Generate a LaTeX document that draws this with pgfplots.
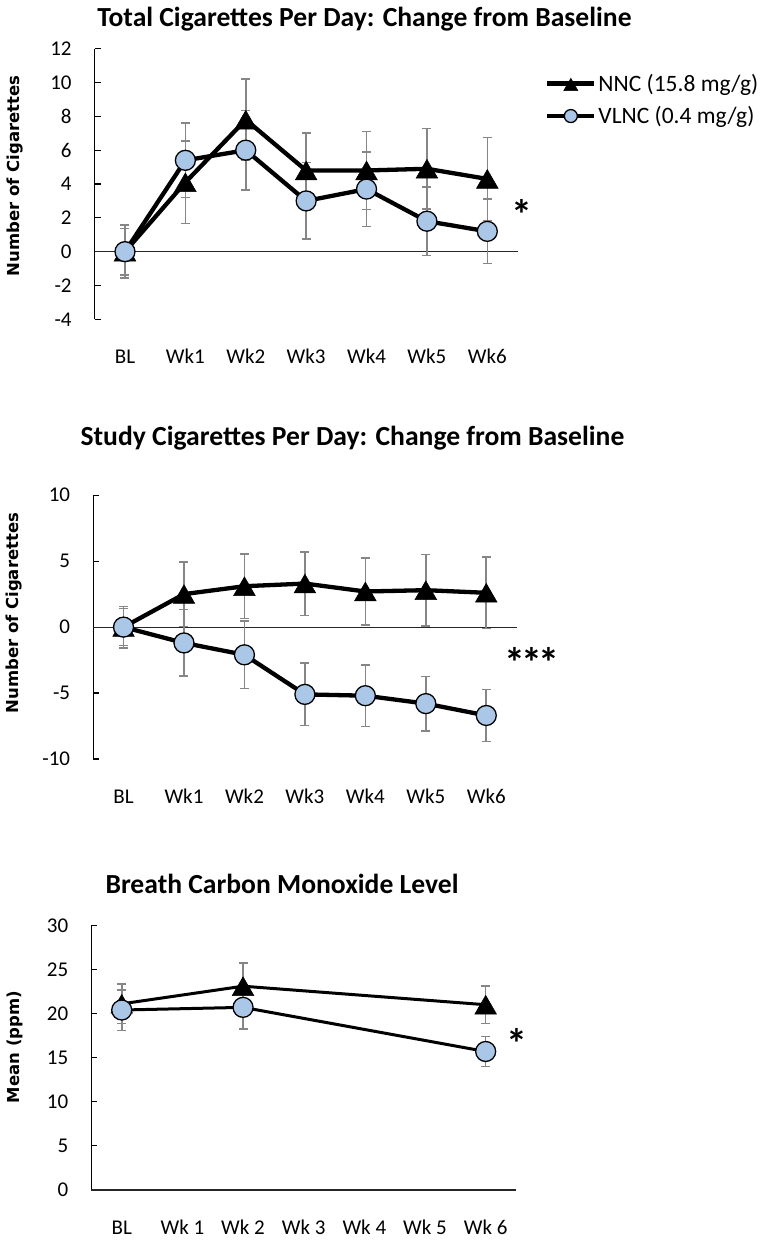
\documentclass[border=0pt]{standalone}
\usepackage{pgfplots}
\pgfplotsset{compat=1.18}
\usepackage{pgfplotstable}
\usepackage{fontspec}
\setmainfont{Carlito}
\newfontfamily\verd{DejaVu Sans}
\definecolor{vl}{RGB}{170,199,232}
\definecolor{eb}{RGB}{134,134,134}

\pgfplotstableread{
x y e
0 0 1.57
1 4.1 2.43
2 7.8 2.4
3 4.8 2.2
4 4.8 2.3
5 4.9 2.37
6 4.3 2.46
}\totnnc
\pgfplotstableread{
x y e
0 0 1.38
1 5.4 2.2
2 6.0 2.34
3 3.0 2.26
4 3.7 2.21
5 1.8 2.03
6 1.2 1.9
}\totvl
\pgfplotstableread{
x y e
0 0 1.57
1 2.5 2.45
2 3.1 2.45
3 3.3 2.41
4 2.7 2.54
5 2.8 2.7
6 2.6 2.7
}\stnnc
\pgfplotstableread{
x y e
0 0 1.4
1 -1.2 2.52
2 -2.1 2.55
3 -5.1 2.37
4 -5.2 2.34
5 -5.8 2.06
6 -6.7 1.98
}\stvl
\pgfplotstableread{
x y e
0 21.1 2.25
2 23.1 2.6
6 21.0 2.14
}\conc
\pgfplotstableread{
x y e
0 20.4 2.3
2 20.7 2.45
6 15.7 1.72
}\covl

\newcommand{\ylabfont}{\verd\bfseries\fontsize{16.5pt}{20pt}\selectfont}
\newcommand{\astfont}{\bfseries\fontsize{42pt}{46pt}\selectfont}

\pgfplotsset{
  base/.style={
    scale only axis, clip=false,
    xmin=-0.5, xmax=6.5,
    xtick={0,...,6},
    axis y line*=left, axis x line*=bottom,
    x axis line style={draw=none},
    y axis line style={-, black, line width=1.2pt},
    x tick style={draw=none},
    y tick style={black, line width=1.2pt},
    tick align=inside, major tick length=6pt,
    /pgf/number format/assume math mode=true,
    ticklabel style={font=\fontsize{21pt}{25pt}\selectfont},
    xticklabel style={anchor=base, yshift=-44pt, inner sep=0pt},
    yticklabel style={anchor=east, inner sep=0pt, xshift=-23pt},
    extra y ticks={0}, extra y tick labels={},
    extra y tick style={grid=major, major grid style={black!85, line width=1.2pt}, major tick length=0pt},
    legend image code/.code={\draw[mark repeat=2, mark phase=2, #1, /tikz/every mark/.append style={scale=0.65}] plot coordinates {(0pt,0pt) (23.5pt,0pt) (47pt,0pt)};},
  },
  ebar/.style={forget plot, draw=none, mark=none, error bars/.cd, y dir=both, y explicit,
    error bar style={eb, line width=1.6pt}, error mark options={eb, line width=1.6pt, mark size=4.5pt, rotate=90}},
  nnc/.style={black, line width=#1, mark=triangle*, mark size=12.5pt, mark options={solid, fill=black, draw=black, line width=0.5pt, yshift=-3.1pt}},
  vlnc/.style={black, line width=#1, mark=*, mark size=10pt, mark options={solid, fill=vl, draw=black, line width=1.3pt}},
}

\begin{document}
\begin{tikzpicture}
\useasboundingbox (0,0) rectangle (760pt,-1242pt);

% ---------- Chart 1 ----------
\begin{axis}[base,
  at={(94.8pt,-319.3pt)}, anchor=south west,
  width=422.7pt, height=270.6pt,
  ymin=-4, ymax=12, ytick={-4,-2,...,12},
  xticklabels={BL,Wk1,Wk2,Wk3,Wk4,Wk5,Wk6},
  title={Total Cigarettes Per Day: Change from Baseline},
  every axis title/.style={at={(axis description cs:0.638,1.083)}, anchor=base, inner sep=0pt, font=\bfseries\fontsize{27.6pt}{32pt}\selectfont},
  ylabel={Number of Cigarettes},
  every axis y label/.style={at={(axis description cs:-0.1793,0.53)}, rotate=90, anchor=base, inner sep=0pt, font=\ylabfont},
  legend style={draw=none, fill=none, at={(rel axis cs:1.065,0.9146)}, anchor=north west,
    font=\fontsize{23.5pt}{28pt}\selectfont, row sep=10pt, column sep=0pt, inner sep=0pt,
    cells={anchor=west}},
]
\addplot[ebar] table[x=x,y=y,y error=e]{\totnnc};
\addplot[ebar] table[x=x,y=y,y error=e]{\totvl};
\addplot[nnc=4.3pt] table[x=x,y=y]{\totnnc};
\addlegendentry{NNC (15.8 mg/g)}
\addplot[vlnc=4.3pt] table[x=x,y=y]{\totvl};
\addlegendentry{VLNC (0.4 mg/g)}
\node[font=\astfont, inner sep=0pt, yshift=-8pt] at (axis cs:6.574,2.65) {*};
\end{axis}

% ---------- Chart 2 ----------
\begin{axis}[base,
  at={(93.3pt,-759pt)}, anchor=south west,
  width=423.2pt, height=263.8pt,
  ymin=-10, ymax=10, ytick={-10,-5,0,5,10},
  xticklabels={BL,Wk1,Wk2,Wk3,Wk4,Wk5,Wk6},
  title={Study Cigarettes Per Day: Change from Baseline},
  every axis title/.style={at={(axis description cs:0.6125,1.1903)}, anchor=base, inner sep=0pt, font=\bfseries\fontsize{27.6pt}{32pt}\selectfont},
  ylabel={Number of Cigarettes},
  every axis y label/.style={at={(axis description cs:-0.1756,0.553)}, rotate=90, anchor=base, inner sep=0pt, font=\ylabfont},
]
\addplot[ebar] table[x=x,y=y,y error=e]{\stnnc};
\addplot[ebar] table[x=x,y=y,y error=e]{\stvl};
\addplot[nnc=4.3pt] table[x=x,y=y]{\stnnc};
\addplot[vlnc=4.3pt] table[x=x,y=y]{\stvl};
\node[font=\astfont, inner sep=0pt, yshift=-8pt] at (axis cs:6.756,-2.05) {*\kern-4.2pt*\kern-4.2pt*};
\end{axis}

% ---------- Chart 3 ----------
\begin{axis}[base,
  at={(91.4pt,-1190pt)}, anchor=south west,
  width=424.6pt, height=264.7pt,
  ymin=0, ymax=30, ytick={0,5,...,30},
  xticklabels={BL,Wk 1,Wk 2,Wk 3,Wk 4,Wk 5,Wk 6},
  title={Breath Carbon Monoxide Level},
  every axis title/.style={at={(axis description cs:0.4489,1.122)}, anchor=base, inner sep=0pt, font=\bfseries\fontsize{27.6pt}{32pt}\selectfont},
  ylabel={Mean (ppm)},
  every axis y label/.style={at={(axis description cs:-0.1705,0.54)}, rotate=90, anchor=base, inner sep=0pt, font=\ylabfont},
]
\addplot[ebar] table[x=x,y=y,y error=e]{\conc};
\addplot[ebar] table[x=x,y=y,y error=e]{\covl};
\addplot[nnc=3pt] table[x=x,y=y]{\conc};
\addplot[vlnc=3pt] table[x=x,y=y]{\covl};
\node[font=\astfont, inner sep=0pt, yshift=-8pt] at (axis cs:6.516,17.54) {*};
\end{axis}
\end{tikzpicture}
\end{document}
